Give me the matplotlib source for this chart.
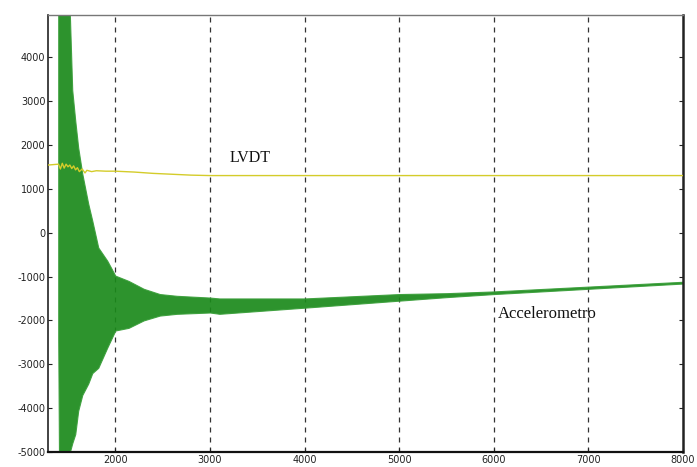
import matplotlib
matplotlib.use("Agg")
import matplotlib.pyplot as plt

# LVDT signal
lvdt_x = [1290, 1400, 1420, 1440, 1460, 1480, 1500, 1520, 1540, 1560, 1580, 1600,
          1620, 1650, 1680, 1700, 1750, 1800, 1900, 2000, 2200, 2400, 2600, 2800,
          3000, 4000, 5000, 6000, 7000, 8000]
lvdt_y = [1540, 1560, 1450, 1580, 1470, 1560, 1500, 1540, 1460, 1520, 1430, 1480,
          1390, 1450, 1360, 1420, 1390, 1410, 1400, 1400, 1380, 1350, 1330, 1310,
          1300, 1300, 1300, 1300, 1300, 1300]

# Accelerometer signal envelope
acc_x = [1397, 1405, 1520, 1545, 1577, 1608, 1651, 1714, 1757, 1820, 1915, 2000,
         2140, 2300, 2470, 2650, 3000, 3100, 4000, 5000, 5500, 6000, 7000, 8000]
acc_upper = [4960, 4960, 4960, 3250, 2550, 1940, 1345, 660, 270, -340, -640, -980,
             -1100, -1280, -1400, -1440, -1480, -1500, -1500, -1400, -1380, -1340, -1230, -1120]
acc_lower = [-2400, -5000, -5000, -4800, -4590, -4060, -3700, -3440, -3200, -3080, -2620, -2230,
             -2170, -2000, -1890, -1850, -1820, -1850, -1710, -1550, -1470, -1400, -1280, -1160]

x_ticks = [2000, 3000, 4000, 5000, 6000, 7000, 8000]
y_ticks = [-5000, -4000, -3000, -2000, -1000, 0, 1000, 2000, 3000, 4000]

fig = plt.figure(figsize=(6.97, 4.67), dpi=100)
ax = fig.add_axes([0.069, 0.032, 0.911, 0.936])

ax.set_xlim(1290, 8000)
ax.set_ylim(-5000, 4960)

for xv in x_ticks[:-1]:
    ax.axvline(xv, color="#333333", linestyle=(0, (4, 4)), linewidth=0.9, zorder=1)

ax.fill_between(acc_x, acc_lower, acc_upper, color="#1b8a1b", alpha=0.92,
                linewidth=0.8, edgecolor="#3a9f3a", zorder=2)
ax.plot(lvdt_x, lvdt_y, color="#d4cc2a", linewidth=1.0, zorder=3)

ax.text(3420, 1690, "LVDT", family="Liberation Serif", fontsize=11.5,
        ha="center", va="center", color="#111111")
ax.text(6570, -1850, "Accelerometro", family="Liberation Serif", fontsize=12,
        ha="center", va="center", color="#111111")

ax.set_xticks(x_ticks)
ax.set_yticks(y_ticks)
ax.set_xticklabels([str(v) for v in x_ticks])
ax.set_yticklabels([str(v) for v in y_ticks])
ax.tick_params(axis="both", labelsize=7, colors="#222222", direction="in", length=3)
ax.tick_params(axis="y", right=True, left=True, pad=2)
ax.tick_params(axis="x", pad=2)

ax.spines["top"].set_color("#777777")
ax.spines["top"].set_linewidth(1.0)
ax.spines["left"].set_color("#222222")
ax.spines["left"].set_linewidth(1.2)
ax.spines["bottom"].set_color("#111111")
ax.spines["bottom"].set_linewidth(1.6)
ax.spines["right"].set_color("#222222")
ax.spines["right"].set_linewidth(1.8)

fig.savefig("out.png", dpi=100)
